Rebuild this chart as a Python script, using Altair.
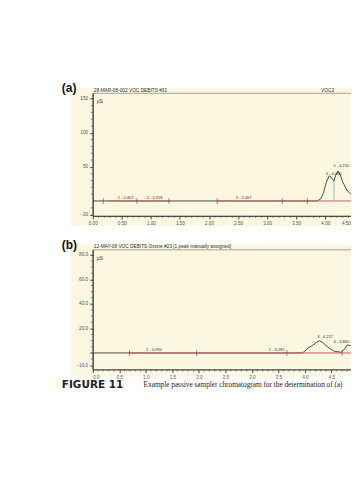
import altair as alt
import pandas as pd

# ---------------- Panel (a) ----------------
a_time = [0.0, 3.86, 3.92, 3.97, 4.02, 4.07, 4.10, 4.15, 4.18, 4.22, 4.26, 4.30, 4.37, 4.45, 4.55, 4.70]
a_signal = [0, 0, 3, 12, 28, 37, 35, 29, 38, 44, 38, 28, 16, 9, 5, 3]
a_red_start = [0.27, 2.15]
a_red_end = [1.34, 4.70]
a_marker_time = [0.18, 0.76, 1.31, 2.14, 3.26, 3.69]
a_peak_label = ["1 - 0.407", "2 - 0.918", "3 - 2.467", "4 - 4.080", "5 - 4.210"]
a_peak_x = [0.43, 0.93, 2.46, 4.01, 4.14]
a_peak_y = [2, 2, 2, 37, 48]
a_drop_time = [4.15]
a_drop_top = [29]
a_yticks = [-20, 50, 100, 150]
a_xticks = [0.0, 0.5, 1.0, 1.5, 2.0, 2.5, 3.0, 3.5, 4.0, 4.5]
a_header = "28-MAR-08-002 VOC DEBITS #31"
a_header_right = "VOC2"

# ---------------- Panel (b) ----------------
b_time = [0.0, 3.95, 4.00, 4.06, 4.12, 4.20, 4.27, 4.33, 4.40, 4.47, 4.56, 4.69, 4.74, 4.80, 4.86, 4.93, 5.0]
b_signal = [0, 0, 1.5, 4, 5.5, 8, 10, 8.5, 6, 3.5, 1.3, 0.5, 3, 6.5, 6, 4.5, 3]
b_red_start = [0.69]
b_red_end = [5.0]
b_marker_time = [0.69, 1.96, 3.66, 4.70]
b_peak_label = ["1 - 0.990", "2 - 3.290", "3 - 4.217", "4 - 4.860"]
b_peak_x = [1.01, 3.32, 4.23, 4.54]
b_peak_y = [0.8, 0.8, 11, 7.5]
b_yticks = [-10, 0, 20, 40, 60, 80]
b_xticks = [0.0, 0.5, 1.0, 1.5, 2.0, 2.5, 3.0, 3.5, 4.0, 4.5]
b_header = "12-MAY-08 VOC DEBITS Ozone #23 [1 peak manually assigned]"

caption_bold = "FIGURE 11"
caption_text = "Example passive sampler chromatogram for the determination of (a)"

CREAM = "#fbf7e1"
TRACE = "#3a3a3a"
RED = "#e0565b"
MARK = "#3b3f8c"
AX = "#444444"
SANS = "Liberation Sans"
EXTRA = 60  # cream background runs past the crop edge
ANCHOR_L = 40  # invisible anchor rect, fixes the layout bounds
ANCHOR_T = 20


def minor(lo, hi, step, skip):
    vals = []
    k = 0
    v = lo
    while v <= hi + 1e-9:
        r = round(v, 4)
        if all(abs(r - s) > 1e-6 for s in skip):
            vals.append(r)
        k += 1
        v = lo + k * step
    return vals


def panel(time, signal, red_s, red_e, markers, labels, lx, ly, xticks, yticks,
          xdom, ydom, W, H, xfmt, yfmt, tag, header, header_right, xminor, yminor,
          cream_bottom, drop=None, caption=False, hide_zero=False, anchor=False, edge_label=None):
    xs = alt.Scale(domain=xdom, nice=False, zero=False)
    ys = alt.Scale(domain=ydom, nice=False, zero=False)
    label_expr = "datum.value == 0 ? '' : datum.label" if hide_zero else "datum.label"
    x_extra = {}
    if edge_label is not None:
        x_extra = dict(
            labelAlign={"condition": {"test": f"datum.value >= {edge_label}", "value": "right"},
                        "value": "center"},
            labelOffset={"condition": {"test": f"datum.value >= {edge_label}", "value": -4},
                         "value": 0},
        )
    xa = alt.Axis(values=xticks, format=xfmt, title=None, grid=False, domainColor=AX, tickColor=AX,
                  tickSize=3, labelFontSize=4.6, labelFont=SANS, labelColor="#555", labelPadding=2,
                  domainWidth=1, zindex=2, **x_extra)
    ya = alt.Axis(values=yticks, format=yfmt, title=None, grid=False, domainColor=AX, tickColor=AX,
                  tickSize=3, labelFontSize=4.8, labelFont=SANS, labelColor="#555", labelPadding=2,
                  domainWidth=1.2, labelExpr=label_expr, zindex=2)

    def X(f):
        return alt.X(f, scale=xs, axis=xa)

    def Y(f):
        return alt.Y(f, scale=ys, axis=ya)

    one = pd.DataFrame({"k": [0]})

    bg = alt.Chart(one).mark_rect(color=CREAM).encode(
        x=alt.value(-22), x2=alt.value(W + EXTRA), y=alt.value(-5), y2=alt.value(H + cream_bottom))
    frame = alt.Chart(one).mark_rect(filled=False, stroke="#8a8a8a", strokeWidth=0.8).encode(
        x=alt.value(0), x2=alt.value(W + EXTRA), y=alt.value(0), y2=alt.value(H))

    trace_df = pd.DataFrame({"t": time, "v": signal})
    trace = alt.Chart(trace_df).mark_line(color=TRACE, strokeWidth=0.9, clip=True).encode(
        x=X("t:Q"), y=Y("v:Q"))

    red_df = pd.DataFrame({"s": red_s, "e": red_e, "z": [0] * len(red_s)})
    red = alt.Chart(red_df).mark_rule(color=RED, strokeWidth=1, clip=True).encode(
        x=X("s:Q"), x2="e:Q", y=Y("z:Q"))

    mk_df = pd.DataFrame({"t": markers, "z": [0] * len(markers)})
    mk = alt.Chart(mk_df).mark_tick(color=MARK, orient="vertical", size=6, thickness=0.8).encode(
        x=X("t:Q"), y=Y("z:Q"))

    lab_df = pd.DataFrame({"txt": labels, "x": lx, "y": ly})
    lab = alt.Chart(lab_df).mark_text(align="left", baseline="bottom", fontSize=4, font=SANS,
                                      color="#333").encode(x=X("x:Q"), y=Y("y:Q"), text="txt:N")

    xm_df = pd.DataFrame({"t": xminor})
    xm = alt.Chart(xm_df).mark_rule(color=AX, strokeWidth=0.6).encode(
        x=X("t:Q"), y=alt.value(H), y2=alt.value(H + 2))
    ym_df = pd.DataFrame({"v": yminor})
    ym = alt.Chart(ym_df).mark_rule(color=AX, strokeWidth=0.6).encode(
        y=Y("v:Q"), x=alt.value(0), x2=alt.value(-2))

    texts = [
        alt.Chart(one).mark_text(text=tag, align="left", baseline="middle", fontSize=12,
                                 fontWeight="bold", font=SANS, color="#111").encode(
            x=alt.value(-31), y=alt.value(-5)),
        alt.Chart(one).mark_text(text=header, align="left", baseline="bottom", fontSize=4.8,
                                 font=SANS, color="#333").encode(x=alt.value(1), y=alt.value(-0.5)),
        alt.Chart(one).mark_text(text="µS", align="left", baseline="top", fontSize=5,
                                 font=SANS, color="#333").encode(x=alt.value(4), y=alt.value(6)),
    ]
    if header_right:
        texts.append(alt.Chart(one).mark_text(text=header_right, align="left", baseline="bottom",
                                              fontSize=4.8, font=SANS, color="#333").encode(
            x=alt.value(229), y=alt.value(-0.5)))
    if caption:
        texts.append(alt.Chart(one).mark_text(text=caption_bold, align="left", baseline="middle",
                                              fontSize=10.5, fontWeight="bold", font="DejaVu Sans",
                                              color="#222").encode(x=alt.value(-31), y=alt.value(136)))
        texts.append(alt.Chart(one).mark_text(text=caption_text, align="left", baseline="middle",
                                              fontSize=7.3, font="Liberation Serif",
                                              color="#222").encode(x=alt.value(51), y=alt.value(136)))

    layers = [bg, frame, trace, red, mk, xm, ym, lab] + texts
    if anchor:
        layers.insert(0, alt.Chart(one).mark_rect(fillOpacity=0, fill="white").encode(
            x=alt.value(-ANCHOR_L), x2=alt.value(W + EXTRA), y=alt.value(-ANCHOR_T), y2=alt.value(0)))
    if drop is not None:
        d_df = pd.DataFrame({"t": drop[0], "top": drop[1], "z": [0] * len(drop[0])})
        layers.insert(4, alt.Chart(d_df).mark_rule(color="#5cc8dc", strokeWidth=0.9).encode(
            x=X("t:Q"), y=Y("z:Q"), y2="top:Q"))
    return alt.layer(*layers).properties(width=W, height=H)


WA = 274
pa = panel(a_time, a_signal, a_red_start, a_red_end, a_marker_time, a_peak_label, a_peak_x, a_peak_y,
           a_xticks, a_yticks, [0, 4.7], [-22, 158], WA, 123, ".2f", "d", "(a)", a_header,
           a_header_right, minor(0, 4.7, 0.1, a_xticks), minor(-20, 150, 10, [-20, 0, 50, 100, 150]),
           10, drop=(a_drop_time, a_drop_top), anchor=True, edge_label=4.5)
pb = panel(b_time, b_signal, b_red_start, b_red_end, b_marker_time, b_peak_label, b_peak_x, b_peak_y,
           b_xticks, b_yticks, [0, 5.0], [-13.5, 84], 266, 120, ".1f", ".1f", "(b)", b_header,
           None, minor(0, 5.0, 0.1, b_xticks), minor(-10, 80, 5, b_yticks), 7,
           caption=True, hide_zero=True)

# plot (a) origin wanted at page (93, 93); svg is cropped so that it ends at the page margin
LEFT = 93 - ANCHOR_L - 8
TOP = 93 - ANCHOR_T - 8
RIGHT = 351 - LEFT - ANCHOR_L - WA - EXTRA - 8
chart = alt.vconcat(pa, pb, spacing=34, bounds="flush").properties(
    padding={"left": LEFT, "top": TOP, "right": RIGHT, "bottom": 0}
).configure_view(stroke=None)

chart.save("out.html", embed_options={"renderer": "svg", "actions": False})
